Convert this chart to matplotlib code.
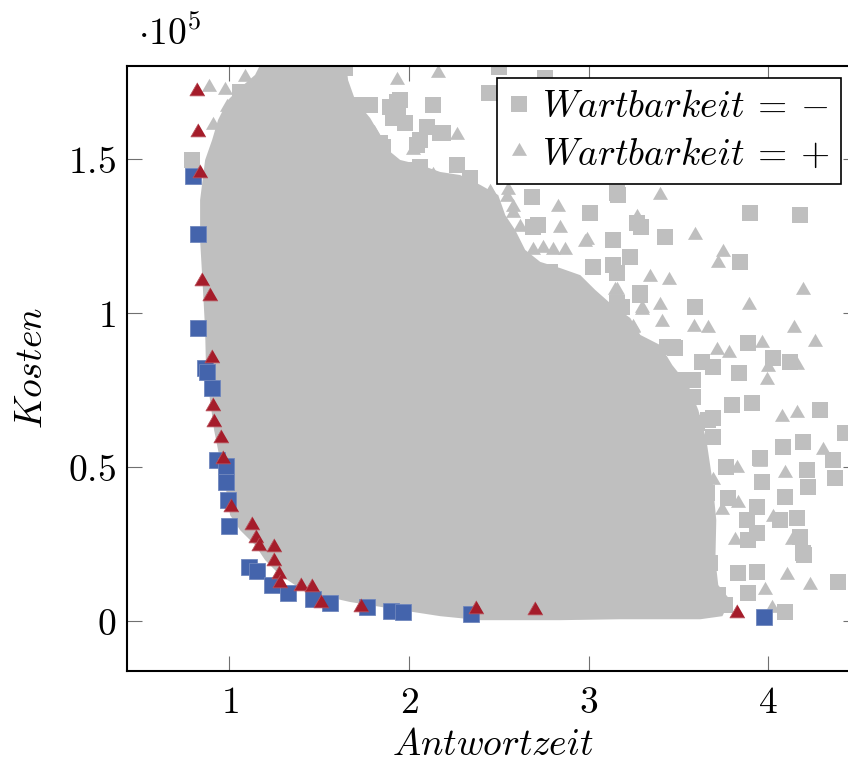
import numpy as np
import matplotlib
matplotlib.use("Agg")
import matplotlib.pyplot as plt
from matplotlib.lines import Line2D
from matplotlib.patches import Polygon

plt.rcParams["mathtext.fontset"] = "cm"
plt.rcParams["font.family"] = "serif"
plt.rcParams["font.serif"] = ["DejaVu Serif"]

GRAY = "#BFBFBF"
BLUE = "#4464AC"
RED = "#A51C2A"

# ---- Pareto front (Wartbarkeit = -) : blue squares
pareto_minus_x = [0.798, 0.826, 0.826, 0.865, 0.876, 0.904, 0.931, 0.982, 0.982,
                  0.993, 0.998, 1.110, 1.154, 1.238, 1.327, 1.466, 1.561, 1.767,
                  1.901, 1.968, 2.346, 3.979]
pareto_minus_y = [144500, 125600, 95100, 82100, 80800, 75600, 52300, 50300, 45100,
                  39300, 30800, 17500, 16200, 11700, 9100, 7100, 5800, 4500,
                  3200, 2900, 2300, 1300]

# ---- Pareto front (Wartbarkeit = +) : red triangles
pareto_plus_x = [0.820, 0.826, 0.837, 0.848, 0.892, 0.904, 0.909, 0.915, 0.954,
                 0.965, 1.009, 1.126, 1.149, 1.165, 1.249, 1.249, 1.277, 1.282,
                 1.399, 1.461, 1.511, 1.734, 2.374, 2.703, 3.828]
pareto_plus_y = [172100, 158800, 145500, 110400, 105500, 85400, 69800, 64600, 59400,
                 52600, 37000, 31200, 26900, 24400, 24000, 19500, 15300, 12300,
                 11400, 11000, 5800, 4500, 3900, 3600, 2600]

# ---- dense core of all solutions (outline)
core_x = [0.865, 0.837, 0.837, 0.853, 0.865, 0.870, 0.892, 0.915, 0.948, 0.982,
          1.004, 1.060, 1.143, 1.199, 1.282, 1.366, 1.505, 1.672, 1.951, 2.174,
          2.397, 2.842, 3.176, 3.622, 3.745, 3.789, 3.722, 3.706, 3.711, 3.689,
          3.656, 3.611, 3.555, 3.466, 3.399, 3.288, 3.232, 3.132, 3.037, 2.954,
          2.842, 2.731, 2.647, 2.592, 2.536, 2.497, 2.397, 2.285, 2.174, 2.062,
          1.951, 1.884, 1.839, 1.784, 1.700, 1.661, 1.644, 1.199, 1.143, 1.060,
          0.993, 0.937, 0.904]
core_y = [149700, 136700, 123700, 107500, 94500, 81500, 71800, 62000, 52300, 42500,
          34400, 29500, 24700, 19800, 14900, 11700, 8400, 6200, 3600, 1600,
          300, 300, 600, 600, 1600, 6800, 11700, 19800, 32800, 45800,
          58800, 68500, 76600, 83100, 89600, 92900, 98400, 102600, 107500, 112300,
          114600, 116600, 120500, 126900, 131800, 138300, 141600, 144800, 145800, 148100,
          149700, 152900, 157800, 163300, 169200, 175600, 183800, 183800, 177300, 173100,
          169200, 162700, 156200]

# ---- scattered solutions outside the core
minus_x = [1.388, 1.505, 1.645, 1.617, 1.728, 1.784, 1.210, 1.060, 1.305, 1.394,
           1.839, 1.728, 0.792, 2.502, 2.447, 2.135, 1.951, 1.979, 2.101, 2.174,
           2.046, 1.856, 2.268, 2.341, 2.062, 2.686, 3.009, 2.720, 2.636, 2.787,
           3.026, 3.137, 3.160, 1.934, 1.940, 2.759, 3.901, 4.179, 3.427, 3.271,
           3.165, 3.293, 3.845, 3.232, 3.137, 3.288, 3.594, 3.188, 3.110, 3.889,
           4.029, 4.124, 3.839, 3.483, 3.633, 3.583, 3.800, 3.912, 4.291, 3.466,
           3.327, 3.438, 3.695, 3.160, 3.695, 3.472, 4.430, 4.085, 4.191, 3.956,
           3.767, 3.968, 4.218, 4.224, 4.374, 4.096, 3.778, 3.940, 3.884, 4.163,
           4.179, 3.889, 4.202, 3.650, 3.678, 3.834, 3.940, 3.889, 4.096, 4.391,
           3.678, 3.661, 3.566, 3.667, 4.363, 4.196, 4.068, 3.940, 3.605,
           2.213, 2.118, 2.023, 2.302, 2.413, 2.452, 2.525, 2.491, 2.692, 1.472,
           1.249, 1.154, 1.321, 1.544, 1.728, 3.160, 3.288, 3.243, 3.438, 3.494,
           3.327, 3.583, 3.455, 3.605, 3.695, 3.527, 3.605, 3.761, 3.722,
           1.895, 1.912, 1.839, 2.062, 2.190, 2.213, 2.285]
minus_y = [179500, 176600, 179500, 173400, 167500, 167500, 175600, 171800, 170100, 162700,
           155200, 149700, 149700, 179900, 171400, 167500, 169200, 161700, 160400, 158400,
           154500, 153900, 148100, 143800, 147400, 137700, 132500, 128600, 114900, 113300,
           114900, 123700, 139000, 168500, 164300, 176300, 132500, 131800, 124700, 129200,
           138300, 127900, 116600, 118200, 115600, 106500, 101900, 101900, 96800, 90300,
           85400, 84100, 80500, 88600, 84100, 78200, 70100, 70800, 68500, 78200,
           84700, 68500, 65900, 113000, 82500, 89000, 61000, 56500, 58100, 52900,
           50000, 45100, 49000, 43500, 46400, 40300, 39900, 37000, 32800, 33400,
           27300, 26300, 21400, 28900, 18800, 15600, 15900, 9100, 2900, 12700,
           7800, 41600, 53200, 65300, 52300, 22100, 32800, 28600, 29500,
           139900, 140900, 146400, 131200, 130200, 123700, 121400, 116200, 127900, 176600,
           172400, 163600, 164900, 165900, 159400, 103200, 105800, 88600, 89000, 78200,
           72700, 72700, 68500, 64300, 59700, 53200, 51300, 5200, 8400,
           166900, 163300, 153900, 156200, 158400, 139300, 136700]

plus_x = [0.887, 0.987, 0.909, 1.087, 1.254, 1.294, 1.511, 1.617, 1.806, 1.828,
          1.750, 0.976, 1.043, 1.126, 1.934, 2.163, 2.268, 2.831, 2.842, 2.981,
          2.692, 2.748, 2.803, 2.870, 2.580, 2.079, 2.213, 3.399, 3.594, 3.750,
          2.993, 3.271, 2.135, 2.073, 2.452, 2.553, 2.352, 3.722, 3.344, 3.449,
          4.191, 3.895, 3.399, 3.299, 3.410, 3.589, 3.667, 4.146, 4.263, 3.968,
          3.717, 3.784, 4.001, 4.163, 3.995, 3.249, 3.149, 3.539, 3.383, 4.079,
          4.163, 4.307, 3.828, 4.096, 3.956, 3.639, 3.834, 3.745, 3.817, 4.029,
          4.130, 4.107, 4.235, 3.984, 4.023, 3.511, 3.605, 3.695,
          2.341, 2.452, 2.547, 2.580, 2.619, 2.268, 1.505, 1.617, 1.043, 3.160,
          3.299, 3.249, 3.383, 3.539, 3.305, 3.499, 3.639,
          2.023, 2.079, 2.101, 2.023, 2.157, 2.246]
plus_y = [173400, 166900, 161000, 176600, 180500, 179500, 169200, 161000, 158400, 146400,
          143800, 172400, 164300, 166600, 175600, 177900, 157800, 134400, 127600, 123100,
          120500, 121100, 120500, 120500, 134400, 143200, 131200, 138300, 125300, 119800,
          123700, 131200, 144800, 142500, 139300, 139900, 139300, 116200, 111700, 110700,
          107500, 102600, 102600, 101000, 97100, 95500, 95100, 95100, 90600, 90300,
          88000, 87000, 82500, 83100, 78200, 95500, 107500, 71100, 74000, 66200,
          67500, 55500, 49700, 48100, 51600, 45100, 38300, 36000, 26300, 33800,
          26300, 14900, 11700, 10100, 4200, 44800, 33800, 45800,
          139900, 139000, 137700, 132500, 127900, 136700, 166900, 161700, 164900, 107500,
          101600, 95100, 74000, 71100, 66200, 61400, 45800,
          152900, 144200, 140600, 143200, 139300, 140900]

x_ticks = [1, 2, 3, 4]
y_ticks = [0, 50000, 100000, 150000]
y_tick_labels = ["$0$", "$0.5$", "$1$", "$1.5$"]

TRI = [(0, 1), (-0.866, -0.5), (0.866, -0.5)]

fig = plt.figure(figsize=(8.48, 7.62), dpi=100)
ax = fig.add_axes([127 / 848, 91 / 762, 731 / 848, 605 / 762])

ax.add_patch(Polygon(np.column_stack([core_x, core_y]), closed=True,
                     facecolor=GRAY, edgecolor="none", zorder=1))
ax.plot(minus_x, minus_y, ls="none", marker="s", ms=11.5, color=GRAY, mew=0, zorder=2)
ax.plot(plus_x, plus_y, ls="none", marker=TRI, ms=12.5, color=GRAY, mew=0, zorder=2)
ax.plot(pareto_minus_x, pareto_minus_y, ls="none", marker="s", ms=11.5,
        color=BLUE, mec="#6f86bd", mew=0.6, zorder=3)
ax.plot(pareto_plus_x, pareto_plus_y, ls="none", marker=TRI, ms=12.5,
        color=RED, mec="#b8505a", mew=0.6, zorder=4)

ax.set_xlim(0.43, 4.50)
ax.set_ylim(-16200, 180200)
ax.set_xticks(x_ticks)
ax.set_xticklabels([f"${t}$" for t in x_ticks])
ax.set_yticks(y_ticks)
ax.set_yticklabels(y_tick_labels)
ax.tick_params(direction="in", length=11, width=0.8, color="#707070",
               top=True, right=True, labelsize=27)
ax.tick_params(axis="x", pad=10)
ax.tick_params(axis="y", pad=8)
for s in ax.spines.values():
    s.set_linewidth(1.5)
    s.set_zorder(10)

ax.set_xlabel(r"$Antwortzeit$", fontsize=27)
ax.xaxis.set_label_coords(0.5, -0.092)
ax.set_ylabel(r"$Kosten$", fontsize=27)
ax.yaxis.set_label_coords(-0.105, 0.5)
ax.text(0.015, 1.035, r"$\cdot 10^5$", transform=ax.transAxes, fontsize=27,
        va="baseline", ha="left")

handles = [Line2D([], [], ls="none", marker="s", ms=11.5, color=GRAY, mew=0),
           Line2D([], [], ls="none", marker=TRI, ms=12.5, color=GRAY, mew=0)]
leg = ax.legend(handles, [r"$Wartbarkeit\:=\:-$", r"$Wartbarkeit\:=\:+$"],
                loc="upper right", bbox_to_anchor=((841 - 127) / 731, (671 - 78) / 605),
                borderaxespad=0, fontsize=27, fancybox=False, framealpha=1,
                edgecolor="black", handlelength=0.6, handletextpad=0.3,
                labelspacing=0.3, borderpad=0.3)
leg.get_frame().set_linewidth(1.2)
leg.set_zorder(20)

fig.savefig("out.png", dpi=100)
